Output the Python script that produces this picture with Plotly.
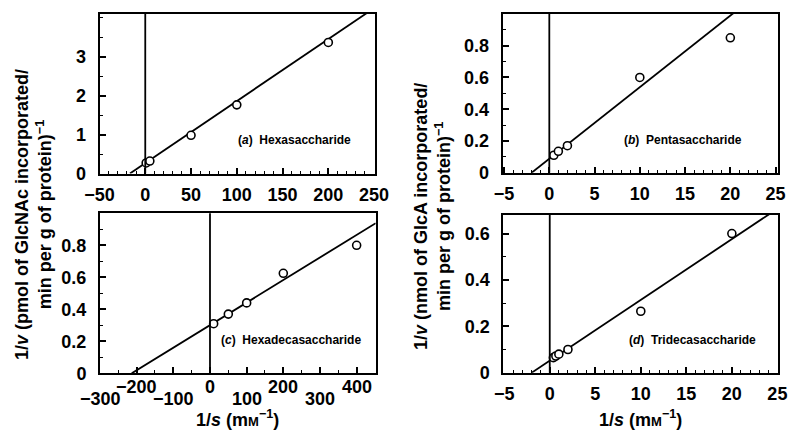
import plotly.graph_objects as go

# ---- data: reciprocal plots (1/s vs 1/v) for four oligosaccharide acceptors ----
# (a) Hexasaccharide
a_inv_s = [1, 5, 50, 100, 200]
a_inv_v = [0.27, 0.32, 0.98, 1.76, 3.36]
a_fit = (0.266, 0.0159)          # (intercept, slope)

# (b) Pentasaccharide
b_inv_s = [0.5, 1, 2, 10, 20]
b_inv_v = [0.11, 0.135, 0.17, 0.60, 0.85]
b_fit = (0.088, 0.0451)

# (c) Hexadecasaccharide
c_inv_s = [10, 50, 100, 200, 400]
c_inv_v = [0.31, 0.37, 0.44, 0.625, 0.80]
c_fit = (0.301, 0.00141)

# (d) Tridecasaccharide
d_inv_s = [0.4, 0.67, 1, 2, 10, 20]
d_inv_v = [0.065, 0.072, 0.08, 0.10, 0.265, 0.60]
d_fit = (0.052, 0.0262)

# axis ticks
a_xticks = [-50, 0, 50, 100, 150, 200, 250]
a_yticks = [0, 1, 2, 3]
b_xticks = [-5, 0, 5, 10, 15, 20, 25]
b_yticks = [0, 0.2, 0.4, 0.6, 0.8]
c_xticks = [-300, -200, -100, 0, 100, 200, 300, 400]
c_yticks = [0, 0.2, 0.4, 0.6, 0.8]
d_xticks = [-5, 0, 5, 10, 15, 20, 25]
d_yticks = [0, 0.2, 0.4, 0.6]

panel_labels = ["a", "b", "c", "d"]
panel_names = ["Hexasaccharide", "Pentasaccharide", "Hexadecasaccharide", "Tridecasaccharide"]

W, H = 790, 434
FONT = "Liberation Sans, Arial, Helvetica, sans-serif"


def px_dom(x0, x1, y0, y1):
    return [x0 / W, x1 / W], [1 - y1 / H, 1 - y0 / H]


panels = [
    dict(xs=a_inv_s, ys=a_inv_v, fit=a_fit, xr=[-50, 251], yr=[0, 4.09],
         xt=a_xticks, yt=a_yticks, xminor=10, yminor=0.5,
         dom=px_dom(99.5, 375, 14, 173.5), lab=(163, 0.86)),
    dict(xs=b_inv_s, ys=b_inv_v, fit=b_fit, xr=[-5.15, 25.3], yr=[0, 1.0],
         xt=b_xticks, yt=b_yticks, xminor=1, yminor=0.1,
         dom=px_dom(502.7, 778.3, 14, 172.7), lab=(14.8, 0.206)),
    dict(xs=c_inv_s, ys=c_inv_v, fit=c_fit, xr=[-300, 452], yr=[0, 1.0],
         xt=c_xticks, yt=c_yticks, xminor=50, yminor=0.1,
         dom=px_dom(100, 375.7, 213.3, 373.3), lab=(222, 0.208)),
    dict(xs=d_inv_s, ys=d_inv_v, fit=d_fit, xr=[-5.1, 25.1], yr=[0, 0.68],
         xt=d_xticks, yt=d_yticks, xminor=1, yminor=0.1,
         dom=px_dom(503.3, 778.3, 215, 372.7), lab=(15.7, 0.142)),
]

fig = go.Figure()
annotations = []
shapes = []


def fmt(v):
    s = f"{v:g}"
    return s.replace("-", "\u2212")


for i, p in enumerate(panels, start=1):
    sx = "" if i == 1 else str(i)
    xa, ya = f"x{sx}", f"y{sx}"
    b0, m = p["fit"]
    x_start = -b0 / m
    x_end = p["xr"][1]
    # fitted straight line (clipped by the plot area)
    fig.add_trace(go.Scatter(
        x=[x_start, x_end], y=[b0 + m * x_start, b0 + m * x_end],
        mode="lines", line=dict(color="black", width=1.8),
        xaxis=xa, yaxis=ya, showlegend=False, hoverinfo="skip"))
    # measured points
    fig.add_trace(go.Scatter(
        x=p["xs"], y=p["ys"], mode="markers",
        marker=dict(symbol="circle", size=8, color="white",
                    line=dict(color="black", width=1.6)),
        xaxis=xa, yaxis=ya, showlegend=False, cliponaxis=False))

    xdom, ydom = p["dom"]
    staggered = (i == 3)
    fig.update_layout(**{
        f"xaxis{sx}": dict(
            domain=xdom, range=p["xr"], anchor=ya, automargin=False,
            tickvals=p["xt"], ticktext=[fmt(v) for v in p["xt"]],
            showticklabels=not staggered,
            ticks="inside", ticklen=6, tickwidth=1.5, tickcolor="black",
            minor=dict(dtick=p["xminor"], tick0=0, ticks="inside", ticklen=3,
                       tickwidth=1.2, tickcolor="black", showgrid=False),
            showline=True, linecolor="black", linewidth=2, mirror=True,
            showgrid=False, zeroline=False, ticklabelstandoff=4,
            tickfont=dict(family=FONT, size=18, color="black", weight="bold")),
        f"yaxis{sx}": dict(
            domain=ydom, range=p["yr"], anchor=xa, automargin=False,
            tickvals=p["yt"], ticktext=[fmt(v) for v in p["yt"]],
            ticks="inside", ticklen=6, tickwidth=1.5, tickcolor="black",
            minor=dict(dtick=p["yminor"], tick0=0, ticks="inside", ticklen=3,
                       tickwidth=1.2, tickcolor="black", showgrid=False),
            showline=True, linecolor="black", linewidth=2, mirror=True,
            showgrid=False, zeroline=False, ticklabelstandoff=8,
            tickfont=dict(family=FONT, size=18, color="black", weight="bold")),
    })

    # vertical line at 1/s = 0
    shapes.append(dict(type="line", xref=xa, yref=f"{ya} domain",
                       x0=0, x1=0, y0=0, y1=1,
                       line=dict(color="black", width=1.8)))

    # panel label
    annotations.append(dict(
        x=p["lab"][0], y=p["lab"][1], xref=xa, yref=ya, showarrow=False,
        text=f"(<i>{panel_labels[i-1]}</i>)  {panel_names[i-1]}",
        font=dict(family=FONT, size=12, color="black", weight="bold")))

    if staggered:
        # alternating high/low tick labels to avoid crowding
        for k, v in enumerate(p["xt"]):
            low = (k % 2 == 0)
            annotations.append(dict(
                x=v, y=0, xref=xa, yref=f"{ya} domain", showarrow=False,
                yanchor="middle", yshift=-(26 if low else 14),
                text=fmt(v),
                font=dict(family=FONT, size=18, color="black", weight="bold")))

# axis titles
x_title = "1/<i>s</i> (m<span style='font-size:13px'>M</span><sup>\u22121</sup>)"
annotations.append(dict(x=0.5, y=1 - 418 / H, xref="x3 domain", yref="paper",
                        showarrow=False, text=x_title, yanchor="middle",
                        font=dict(family=FONT, size=18, color="black", weight="bold")))
annotations.append(dict(x=0.5, y=1 - 418 / H, xref="x4 domain", yref="paper",
                        showarrow=False, text=x_title, yanchor="middle",
                        font=dict(family=FONT, size=18, color="black", weight="bold")))

left_title = ("1/<i>v</i> (pmol of GlcNAc incorporated/<br>"
              "min per g of protein)<sup>\u22121</sup>")
right_title = ("1/<i>v</i> (nmol of GlcA incorporated/<br>"
               "min per g of protein)<sup>\u22121</sup>")
annotations.append(dict(x=33 / W, y=1 - 215 / H, xref="paper", yref="paper",
                        showarrow=False, text=left_title, textangle=-90,
                        xanchor="center", yanchor="middle",
                        font=dict(family=FONT, size=18, color="black", weight="bold")))
annotations.append(dict(x=432 / W, y=1 - 217 / H, xref="paper", yref="paper",
                        showarrow=False, text=right_title, textangle=-90,
                        xanchor="center", yanchor="middle",
                        font=dict(family=FONT, size=18, color="black", weight="bold")))

fig.update_layout(
    width=W, height=H, margin=dict(l=0, r=0, t=0, b=0, autoexpand=False),
    paper_bgcolor="white", plot_bgcolor="white",
    annotations=annotations, shapes=shapes, showlegend=False,
)

fig.write_html("out.html")
